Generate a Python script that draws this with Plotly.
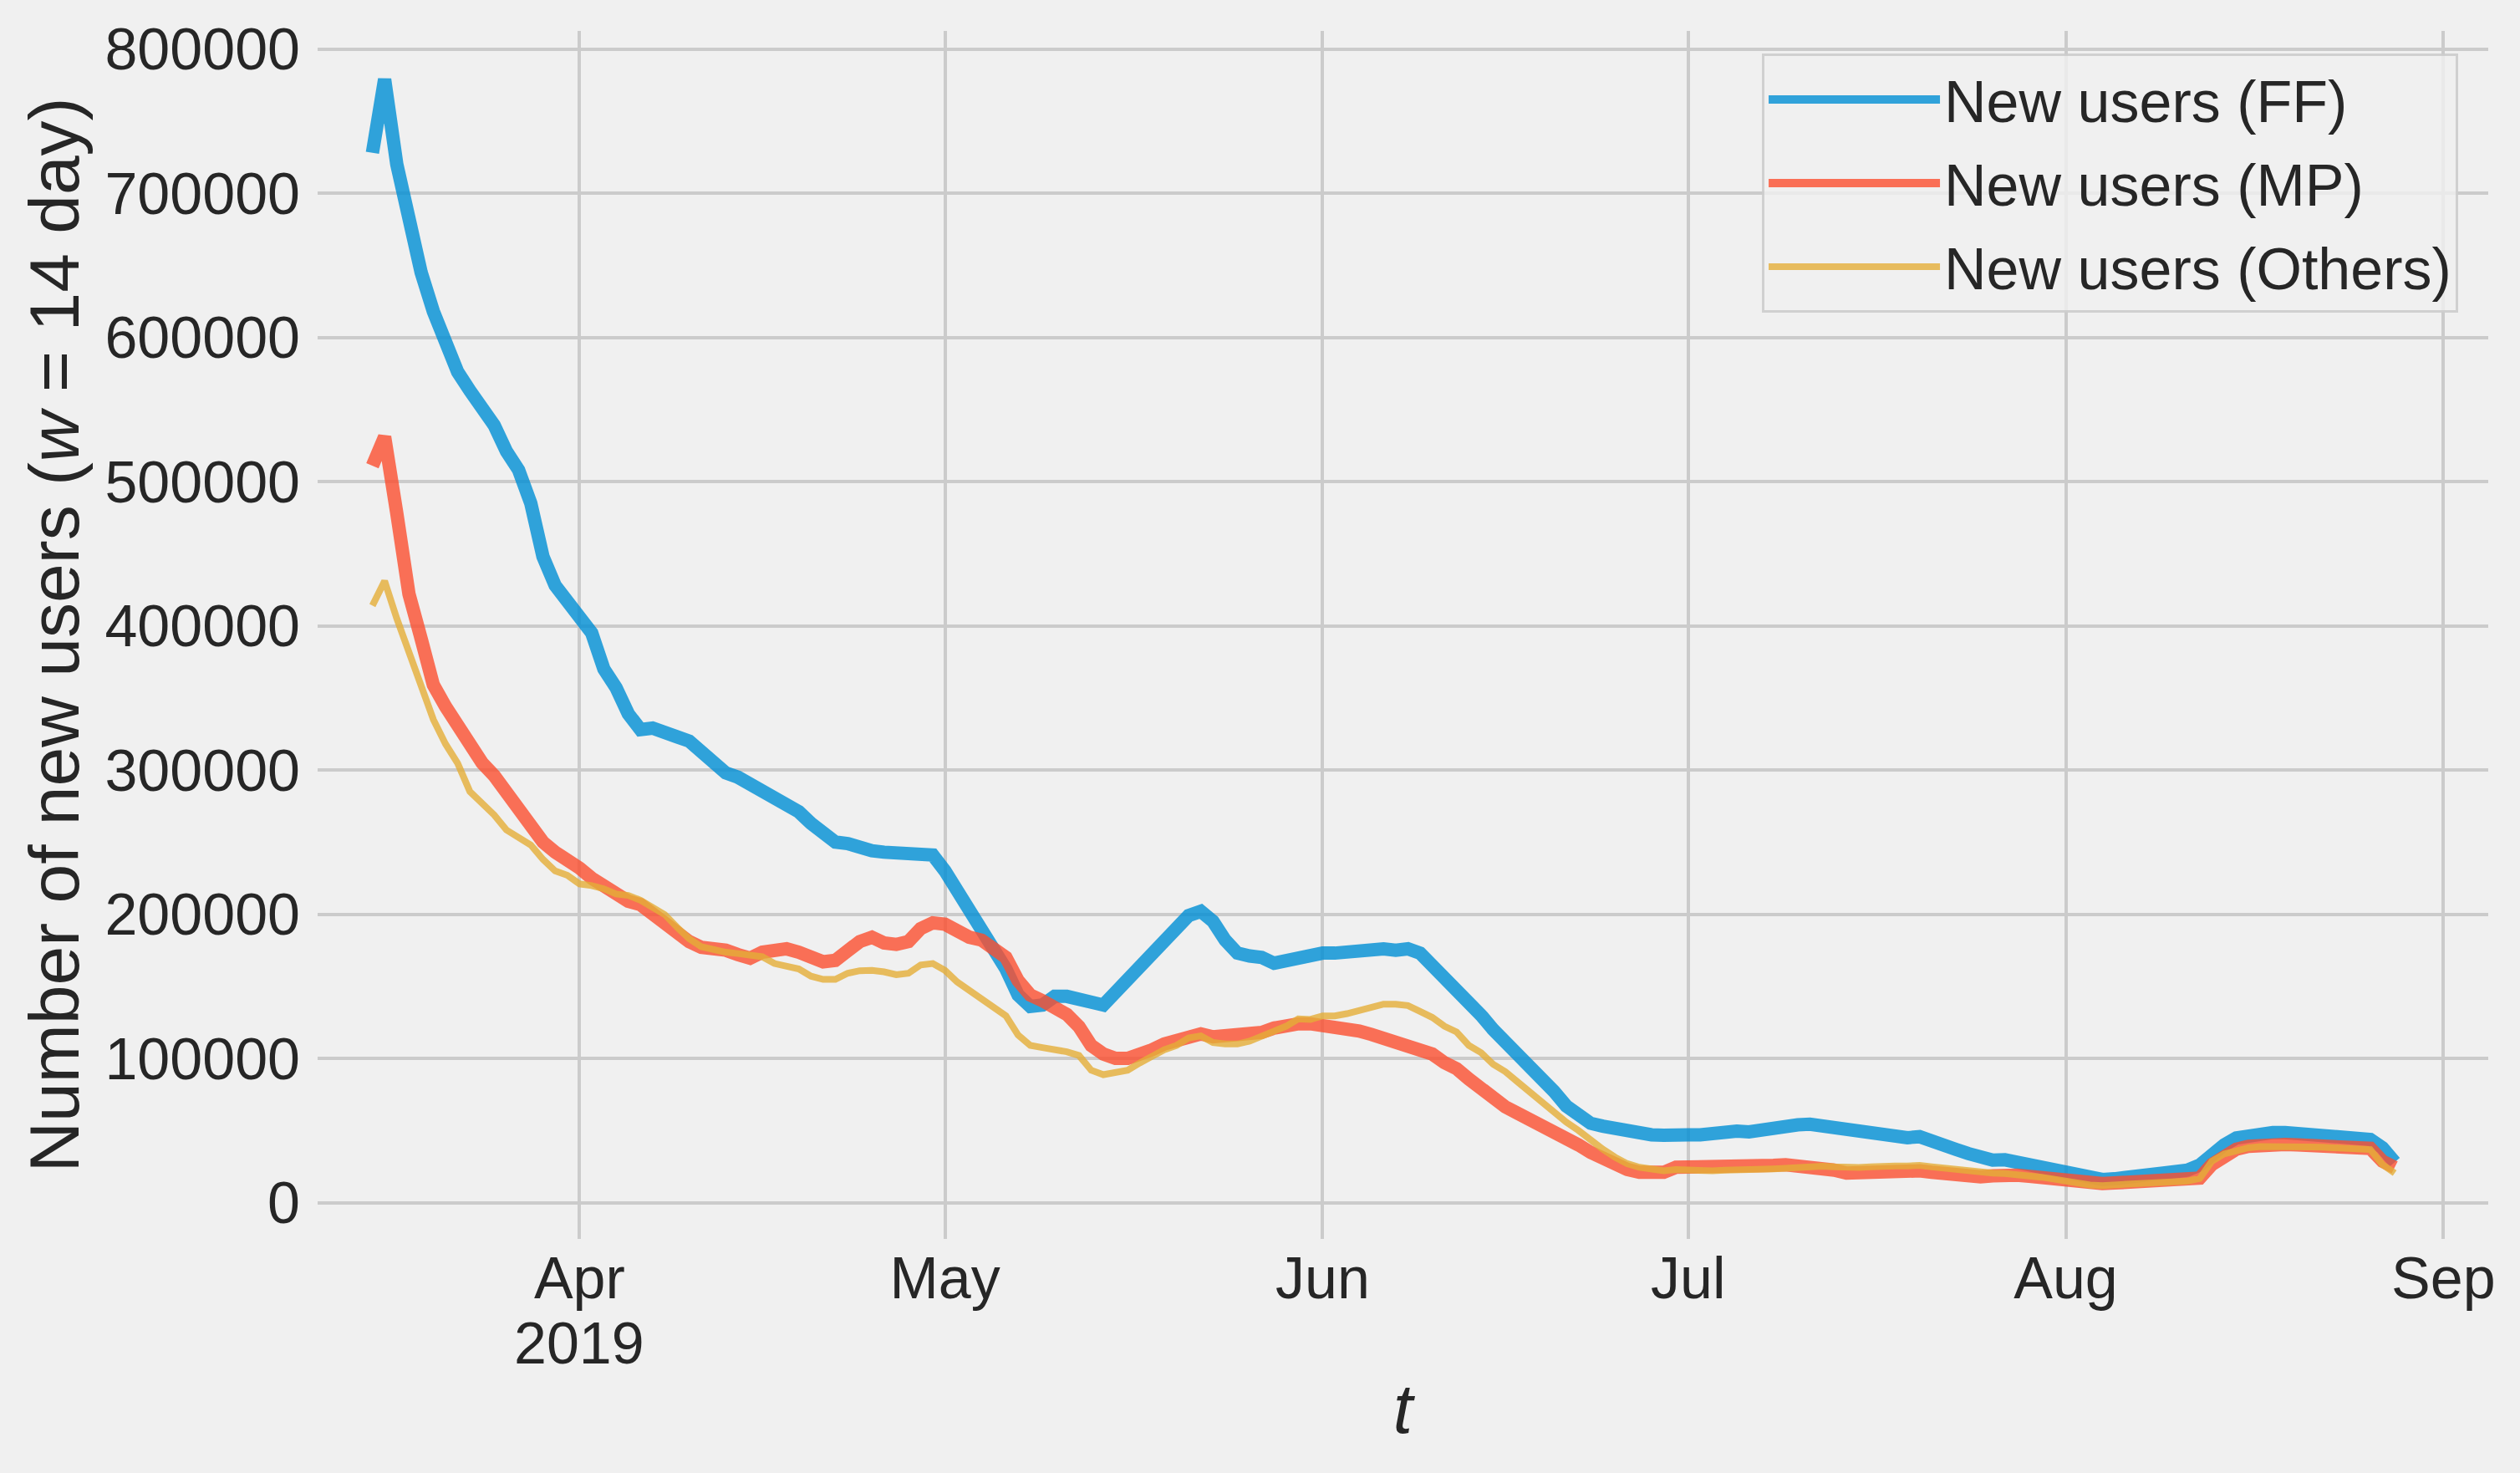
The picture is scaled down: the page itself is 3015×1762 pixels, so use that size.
import pandas as pd
import plotly.graph_objects as go

# ---------------- data (in thousands of users) ----------------
start_date = "2019-03-15"  # first daily observation

ff_k = [
    # Mar 15 - Mar 31
    728, 779, 720, 677, 645, 618, 596, 576, 563, 551, 539, 521, 508, 485, 448, 428, 416,
    # Apr 1 - Apr 30
    408, 395, 370, 357, 339, 328, 329, 327, 323, 320, 312, 305, 298, 295, 290, 285, 280, 276, 271, 263,
    255, 250, 249, 246, 244, 243, 243, 243, 243, 241,
    # May 1 - May 31
    230, 217, 204, 191, 177, 162, 144, 136, 137, 143, 143, 142, 139, 137, 146, 152, 161, 171, 180, 189,
    199, 202, 195, 182, 173, 171, 170, 166, 168, 171, 172,
    # Jun 1 - Jun 30
    173, 173, 174, 174, 174, 176, 175, 176, 173, 165, 157, 149, 139, 130, 120, 112, 104, 96, 87, 77,
    67, 60, 55, 53, 51, 49, 47.5, 47, 46.7, 47.7,
    # Jul 1 - Jul 31
    47, 47, 48.4, 49.4, 49.6, 49, 50.8, 52.3, 53, 53.9, 54.3, 53, 51.7, 50.6, 50, 48.4, 47, 46, 45, 45.7,
    42, 39, 36.8, 34, 31, 29.5, 29.7, 28, 25.8, 23.6, 21.5,
    # Aug 1 - Aug 28
    19.6, 17.8, 16.5, 16, 16.5, 17, 18, 19, 20.5, 21.5, 22.5, 26, 34, 40, 44.8, 46.7, 48.6, 48.6, 48.6, 48,
    47.3, 46.3, 46, 44.8, 44.2, 43.8, 38, 28,
]

mp_k = [
    # Mar 15 - Mar 31
    511, 531, 478, 422, 391, 359, 344, 330, 315, 305, 296, 285, 272, 260, 250, 243, 238,
    # Apr
    232, 225, 219, 213.5, 209, 206.6, 200, 192.5, 186, 181, 177, 177, 175, 172, 169.5, 173.6, 176, 176,
    173.6, 169.5, 167, 168, 174, 181, 184, 180, 179, 181, 190, 194,
    # May
    193, 188, 184, 182, 176, 170, 154, 144, 140, 136, 130.5, 122, 109, 103, 100, 100, 102, 106, 110, 113,
    115, 117, 115, 115.6, 115.6, 116, 118, 121, 123, 124, 124,
    # Jun
    123, 119.7, 119, 119, 116.6, 114, 112, 110, 107, 103, 97, 92.8, 85.7, 78.6, 71.4, 66.4, 62, 58, 54.5, 49,
    44.4, 40, 34.8, 30, 26, 23, 21, 20, 21, 24.5,
    # Jul
    24.4, 24.2, 24.4, 24.8, 25, 25.2, 25.4, 25.8, 26.2, 25.8, 25.4, 25.2, 22.5, 20.5, 21, 21.5, 21.9, 21.9,
    22, 22, 21, 20, 19.4, 18.6, 17.8, 18.6, 19.4, 19, 18.2, 17, 15.9,
    # Aug 1 - Aug 28
    14.7, 13.8, 13.2, 13.2, 13.6, 14, 14.3, 14.5, 14.7, 15.5, 16, 17, 26.4, 33, 37, 39, 40, 40.3, 40.3, 40,
    39.5, 39, 39, 38.4, 38, 37.6, 28.7, 24.4,
]

others_k = [
    # Mar 15 - Mar 31
    414, 431, 405, 382, 356, 335, 318, 304.6, 285, 276.6, 268.8, 258.4, 253.7, 248, 238, 230, 227,
    # Apr
    221, 219.8, 217.6, 214, 213, 209.7, 205, 199.7, 191, 183, 177.4, 175, 173.6, 172.7, 172, 170.5, 165.8,
    163.6, 162, 157, 154.8, 154.8, 159, 160.8, 161, 160, 158, 159, 164.8, 165.8,
    # May
    161, 153, 147, 141.7, 136, 129.5, 116.2, 109, 107.5, 106.5, 104.6, 102, 91.8, 88.7, 90.4, 91.8, 96.9,
    102, 106, 109, 114.2, 115.6, 111, 110, 110, 112, 115.6, 118.3, 122.3, 127.4, 127,
    # Jun
    129.5, 129.5, 131, 133.5, 136, 137.6, 137.6, 136.6, 132.5, 128.4, 122.3, 118.3, 109, 104, 95.9, 90.8,
    83.7, 76.5, 69.4, 62.3, 55.8, 50, 43, 37, 31.5, 27, 24.5, 23, 22, 22.9,
    # Jul
    22.5, 22, 22, 22.5, 22.5, 22.5, 22.9, 23.4, 23.8, 24.4, 24.8, 25.2, 24.8, 24.4, 24.4, 24.8, 25.4, 25.4,
    25.4, 25.8, 24.8, 23.8, 22.9, 22, 21, 20.5, 20.2, 19.6, 18.6, 17.6, 16.3,
    # Aug 1 - Aug 28
    14.7, 13.4, 12.2, 11.8, 12.2, 12.6, 12.8, 13.2, 13.4, 14.3, 15, 16.7, 28.7, 33.7, 36, 38, 38.8, 39, 39,
    38.8, 38.6, 38.4, 38, 37.6, 37.4, 36.8, 26.4, 20.5,
]

series_names = ["New users (FF)", "New users (MP)", "New users (Others)"]
series_values_k = [ff_k, mp_k, others_k]

month_tick_dates = ["2019-04-01", "2019-05-01", "2019-06-01", "2019-07-01", "2019-08-01", "2019-09-01"]
month_tick_labels = ["Apr", "May", "Jun", "Jul", "Aug", "Sep"]
year_label = "2019"
y_tick_values = [0, 100000, 200000, 300000, 400000, 500000, 600000, 700000, 800000]

# ---------------- styles ----------------
series_colors = ["#008fd5", "#fc4f30", "#e5ae38"]
series_widths = [16, 16, 8]
BG = "#f0f0f0"
GRID = "#cbcbcb"
TEXT = "#262626"
FONT = "Liberation Sans, Arial, sans-serif"

fig = go.Figure()
for name, vals_k, color, width in zip(series_names, series_values_k, series_colors, series_widths):
    dates = pd.date_range(start=start_date, periods=len(vals_k), freq="D")
    fig.add_trace(go.Scatter(
        x=dates,
        y=[v * 1000 for v in vals_k],
        mode="lines",
        name=name,
        legendgroup=name,
        line=dict(color=color, width=width),
        opacity=0.8,
    ))

fig.update_layout(
    width=3015,
    height=1762,
    margin=dict(l=380, r=38, t=37, b=280),
    paper_bgcolor=BG,
    plot_bgcolor=BG,
    font=dict(family=FONT, color=TEXT, size=70),
    showlegend=True,
    legend=dict(
        x=0.6654, y=0.9813, xanchor="left", yanchor="top",
        bgcolor="rgba(240,240,240,0.8)",
        bordercolor="rgba(204,204,204,0.9)",
        borderwidth=3,
        font=dict(size=70, family=FONT, color=TEXT),
        tracegroupgap=6,
        itemwidth=205,
    ),
    xaxis=dict(
        type="date",
        range=["2019-03-10 12:00", "2019-09-04 16:20"],
        tickvals=month_tick_dates,
        ticktext=month_tick_labels,
        showgrid=True, gridcolor=GRID, gridwidth=4,
        zeroline=False, showline=False, ticks="",
        tickfont=dict(size=70, family=FONT, color=TEXT),
        ticklabelstandoff=0,
        title=dict(text="<i>t</i>", font=dict(size=84, family=FONT, color=TEXT), standoff=88),
    ),
    yaxis=dict(
        range=[-25200, 812500],
        tickvals=y_tick_values,
        ticktext=[str(v) for v in y_tick_values],
        showgrid=True, gridcolor=GRID, gridwidth=4,
        zeroline=False, showline=False, ticks="",
        tickfont=dict(size=70, family=FONT, color=TEXT),
        ticklabelstandoff=20,
        title=dict(text="Number of new users (<i>w</i> = 14 day)",
                   font=dict(size=84, family=FONT, color=TEXT), standoff=3),
    ),
)

# year shown under the first month label
fig.add_annotation(
    x=month_tick_dates[0], xref="x",
    y=-0.0865, yref="paper", yanchor="middle",
    text=year_label, showarrow=False,
    font=dict(size=70, family=FONT, color=TEXT),
)

fig.write_html(
    "out.html",
    config={"displayModeBar": False},
    post_script="document.body.style.margin='0';document.body.style.padding='0';document.body.style.overflow='hidden';",
)
